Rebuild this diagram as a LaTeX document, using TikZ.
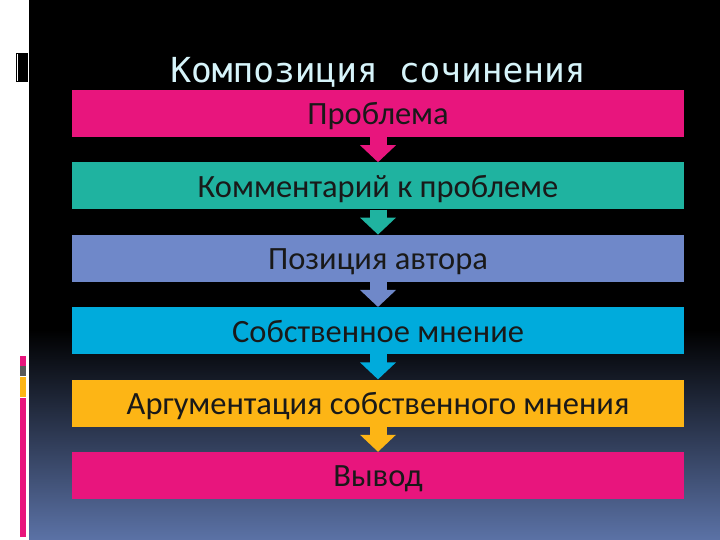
\documentclass[tikz,border=0pt]{standalone}
\usepackage{fontspec}
\setmainfont{Carlito}
\newfontfamily\titlefont{DejaVu Sans Mono}
\usetikzlibrary{positioning,arrows.meta}
\definecolor{crimson}{HTML}{E8157D}
\definecolor{seagreen}{HTML}{1FB3A0}
\definecolor{lavender}{HTML}{6F88C9}
\definecolor{skyblue}{HTML}{00ABDC}
\definecolor{amber}{HTML}{FDB515}
\definecolor{slateblue}{HTML}{5B72A6}
\definecolor{titleblue}{HTML}{D6F4FA}
\begin{document}
\begin{tikzpicture}[x=1pt,y=1pt,
    stage/.style={minimum width=612pt,minimum height=47pt,inner sep=0pt,
      text height=23pt,text depth=0pt,
      font=\fontsize{32.5}{38}\selectfont,text=black!90},
    flow/.style={line width=17pt,-{Triangle[width=35pt,length=17pt]}},
    node distance=25pt]
  \useasboundingbox(0,0)rectangle(720,540);
  % slide background
  \fill[white](0,0)rectangle(29,540);
  \fill[black](29,210)rectangle(720,540);
  \shade[top color=black,bottom color=slateblue](29,0)rectangle(720,210.5);
  \fill[black](16,458)rectangle(28,487);
  \fill[white](17,459)rectangle(18,486);
  \fill[crimson](20,174)rectangle(26,184);
  \fill[gray!70!black](20,164)rectangle(26,174);
  \fill[amber](20,143)rectangle(26,163);
  \fill[crimson](20,3)rectangle(26,142);
  % title and steps
  \node[text=titleblue,font=\titlefont\fontsize{34.5}{40}\selectfont,anchor=base]
    (title) at (378,457) {Композиция сочинения};
  \node[stage,fill=crimson] (problem) at (378,426.5) {Проблема};
  \node[stage,fill=seagreen,below=of problem] (comment) {Комментарий к проблеме};
  \node[stage,fill=lavender,below=of comment] (author) {Позиция автора};
  \node[stage,fill=skyblue,below=of author] (opinion) {Собственное мнение};
  \node[stage,fill=amber,below=of opinion] (argument) {Аргументация собственного мнения};
  \node[stage,fill=crimson,below=of argument] (result) {Вывод};
  \draw[flow,crimson](problem.south)--(comment.north);
  \draw[flow,seagreen](comment.south)--(author.north);
  \draw[flow,lavender](author.south)--(opinion.north);
  \draw[flow,skyblue](opinion.south)--(argument.north);
  \draw[flow,amber](argument.south)--(result.north);
\end{tikzpicture}
\end{document}
